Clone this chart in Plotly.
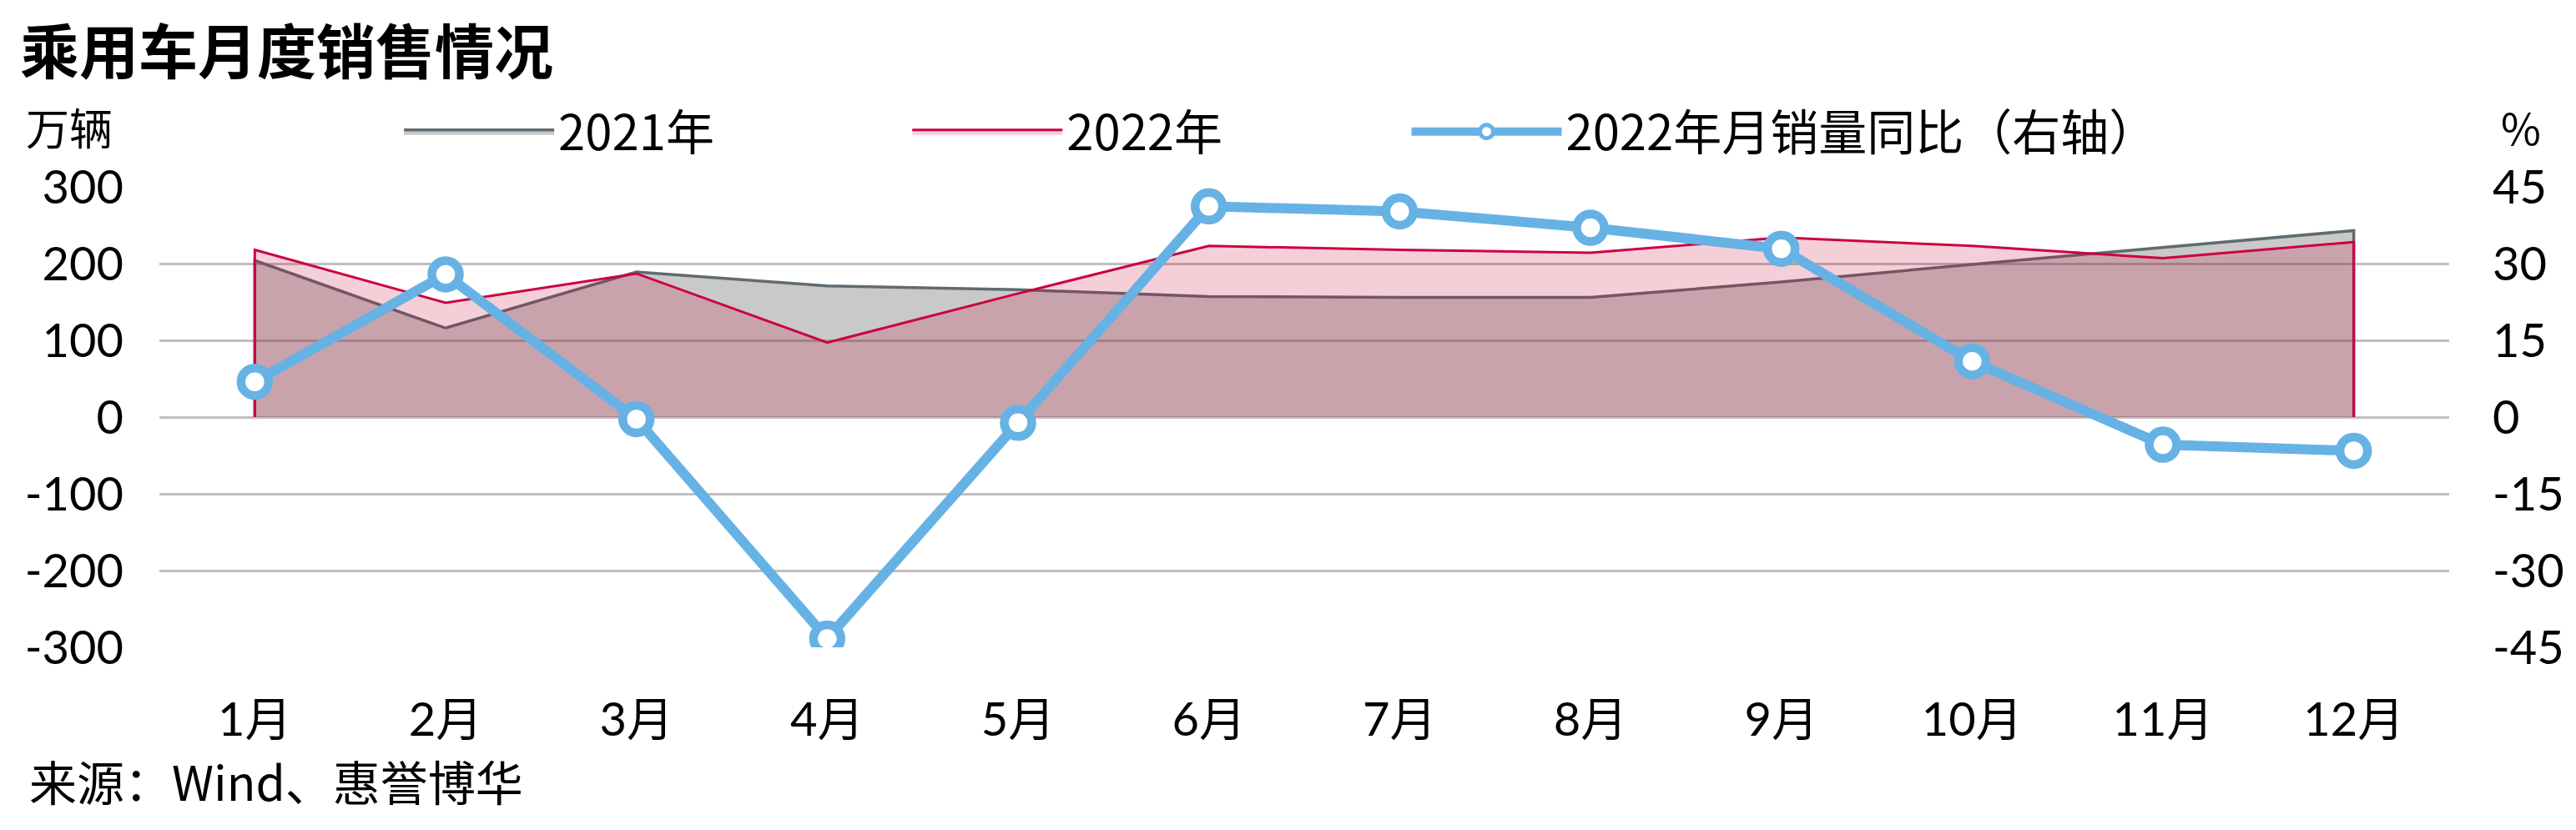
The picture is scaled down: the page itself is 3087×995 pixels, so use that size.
import plotly.graph_objects as go

months = ["1月", "2月", "3月", "4月", "5月", "6月", "7月", "8月", "9月", "10月", "11月", "12月"]
sales_2021 = [204, 116, 189, 171, 166, 157, 156, 156, 176, 199, 221, 243]
sales_2022 = [218, 149, 187, 97, 161, 223, 218, 214, 234, 223, 207, 228]
yoy_2022 = [6.9, 27.9, -0.4, -43.3, -1.1, 41.2, 40.2, 37.0, 32.9, 10.9, -5.4, -6.6]

left_ticks = [-300, -200, -100, 0, 100, 200, 300]
right_ticks = [-45, -30, -15, 0, 15, 30, 45]

TICK_FONT = dict(family="Lato, 'Noto Sans CJK SC'", size=56, color="#000000")
CJK_FONT = "'Noto Sans CJK SC', 'Noto Sans', sans-serif"

# closed outlines: drop to the baseline at the first and last month
x_edge = [months[0]] + months + [months[-1]]
y21 = [0] + sales_2021 + [0]
y22 = [0] + sales_2022 + [0]

fig = go.Figure()
fig.add_trace(go.Scatter(
    x=x_edge, y=y21, name="2021年", mode="lines",
    line=dict(color="#5F6B73", width=3.5), fill="tozeroy",
    fillcolor="rgba(80,80,80,0.31)", yaxis="y", legend="legend"))
fig.add_trace(go.Scatter(
    x=x_edge, y=y22, name="2022年", mode="lines",
    line=dict(color="#CC0044", width=3), fill="tozeroy",
    fillcolor="rgba(200,0,50,0.19)", yaxis="y", legend="legend2"))
fig.add_trace(go.Scatter(
    x=months, y=yoy_2022, name="2022年月销量同比（右轴）", mode="lines+markers",
    line=dict(color="#67B2E4", width=12),
    marker=dict(size=33, color="white", line=dict(color="#67B2E4", width=10.5)),
    yaxis="y2", legend="legend3"))

LEG = dict(orientation="h", y=1.1196, yanchor="middle", xanchor="left",
           font=dict(family=CJK_FONT, size=58, color="#000000"),
           itemwidth=180, bgcolor="rgba(0,0,0,0)")

fig.update_layout(
    width=3087, height=995,
    # page body has an 8px margin; compensate so the plot area lands at 191..2935 x 224..776
    margin=dict(l=183, r=160, t=216, b=227),
    paper_bgcolor="white", plot_bgcolor="white",
    showlegend=True,
    title=dict(text="乘用车月度销售情况", xref="container", yref="container",
               x=0.0052, xanchor="left", y=0.945, yanchor="middle",
               font=dict(family=CJK_FONT, size=71, color="#000000", weight="bold")),
    legend=dict(LEG, x=0.105),
    legend2=dict(LEG, x=0.327),
    legend3=dict(LEG, x=0.545),
    xaxis=dict(type="category", categoryorder="array", categoryarray=months,
               range=[-0.5, 11.5], showgrid=False, zeroline=False, showline=False,
               ticks="", tickfont=TICK_FONT, ticklabelstandoff=49),
    yaxis=dict(range=[-300, 300], tickvals=left_ticks, ticktext=[str(v) for v in left_ticks],
               showgrid=True, gridcolor="#BFBFBF", gridwidth=3, zeroline=False,
               showline=False, ticks="", tickfont=TICK_FONT, ticklabelstandoff=42),
    yaxis2=dict(range=[-45, 45], tickvals=right_ticks, ticktext=[str(v) for v in right_ticks],
                overlaying="y", side="right", showgrid=False, zeroline=False,
                showline=False, ticks="", tickfont=TICK_FONT, ticklabelstandoff=51),
    annotations=[
        dict(text="万辆", xref="paper", yref="paper", x=-0.059, y=1.131,
             xanchor="left", yanchor="middle", showarrow=False,
             font=dict(family=CJK_FONT, size=52, color="#000000")),
        dict(text="%", xref="paper", yref="paper", x=1.022, y=1.131,
             xanchor="left", yanchor="middle", showarrow=False,
             font=dict(family=CJK_FONT, size=52, color="#000000")),
        dict(text="来源：Wind、惠誉博华", xref="paper", yref="paper", x=-0.0576, y=-0.288,
             xanchor="left", yanchor="middle", showarrow=False,
             font=dict(family=CJK_FONT, size=57, color="#000000")),
    ],
)

fig.write_html("out.html")
